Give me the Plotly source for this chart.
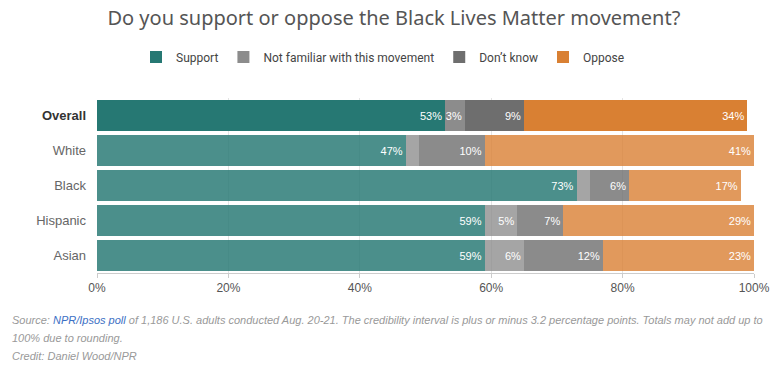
import plotly.graph_objects as go

categories = ["Overall", "White", "Black", "Hispanic", "Asian"]
support = [53, 47, 73, 59, 59]
not_familiar = [3, 2, 2, 5, 6]
dont_know = [9, 10, 6, 7, 12]
oppose = [34, 41, 17, 29, 23]

series = [
    ("Support", support, "rgb(38,120,115)", "rgba(38,120,115,0.83)"),
    ("Not familiar with this movement", not_familiar, "rgb(140,140,140)", "rgba(140,140,140,0.78)"),
    ("Don\u2019t know", dont_know, "rgb(110,110,110)", "rgba(110,110,110,0.8)"),
    ("Oppose", oppose, "rgb(217,128,51)", "rgba(217,128,51,0.8)"),
]

tick_text = ["<b>Overall</b>"] + [f"<span style='color:#666'>{c}</span>" for c in categories[1:]]

fig = go.Figure()
for name, vals, dark, light in series:
    colors = [dark] + [light] * (len(categories) - 1)
    labels = [f"{v}%" if v >= 3 else "" for v in vals]
    fig.add_trace(go.Bar(
        y=categories, x=vals, name=name, orientation="h",
        marker=dict(color=colors, line=dict(width=0)),
        text=labels, texttemplate="%{text}", textposition="inside",
        insidetextanchor="end", textangle=0,
        textfont=dict(color="white", size=11, family="Arial, Liberation Sans"),
        hoverinfo="skip",
    ))

pw = 657.0
ph = 175.0
def px_x(x):
    return (x - 97) / pw
def px_y(y):
    return (273 - y) / ph

fig.update_layout(
    barmode="stack",
    bargap=0.14,
    width=780, height=368,
    margin=dict(l=97, r=26, t=98, b=95, autoexpand=False),
    paper_bgcolor="white", plot_bgcolor="white",
    title=dict(text="Do you support or oppose the Black Lives Matter movement?",
               x=0.505, xanchor="center", y=1 - 18 / 368, yanchor="middle",
               font=dict(size=20, color="#555", family="Noto Sans")),
    legend=dict(orientation="h", x=px_x(383), xanchor="center",
                y=px_y(57), yanchor="middle", traceorder="normal",
                font=dict(size=12, color="#444", family="Roboto")),
    uniformtext=dict(minsize=11, mode="show"),
    xaxis=dict(range=[0, 100], tickvals=[0, 20, 40, 60, 80, 100],
               ticktext=["0%", "20%", "40%", "60%", "80%", "100%"],
               showgrid=True, gridcolor="#e4e4e4", gridwidth=1,
               showline=True, linecolor="#cccccc", linewidth=1,
               ticks="outside", tickcolor="#cccccc", ticklen=4,
               tickfont=dict(size=12, color="#555", family="Liberation Sans"),
               zeroline=False, fixedrange=True, automargin=False),
    yaxis=dict(categoryorder="array", categoryarray=categories, autorange="reversed",
               tickvals=categories, ticktext=tick_text,
               tickfont=dict(size=13, color="#333", family="Liberation Sans"),
               ticks="", showgrid=False, ticklabelstandoff=10, fixedrange=True,
               automargin=False),
    showlegend=True,
)

footer = [
    ("<i><span style='color:#999'>Source: </span><span style='color:#3b6fc4'>NPR/Ipsos poll</span>"
     "<span style='color:#999'> of 1,186 U.S. adults conducted Aug. 20-21. The credibility interval is plus or minus 3.2 percentage points. Totals may not add up to</span></i>", 320),
    ("<i>100% due to rounding.</i>", 338),
    ("<i>Credit: Daniel Wood/NPR</i>", 356),
]
for txt, yy in footer:
    fig.add_annotation(text=txt, xref="paper", yref="paper", x=px_x(10), y=px_y(yy),
                       xanchor="left", yanchor="middle", showarrow=False,
                       font=dict(size=11, color="#999", family="Liberation Sans"))

fig.write_html("out.html", config={"displayModeBar": False},
               post_script="document.body.style.margin='0';document.body.style.overflow='hidden';")
